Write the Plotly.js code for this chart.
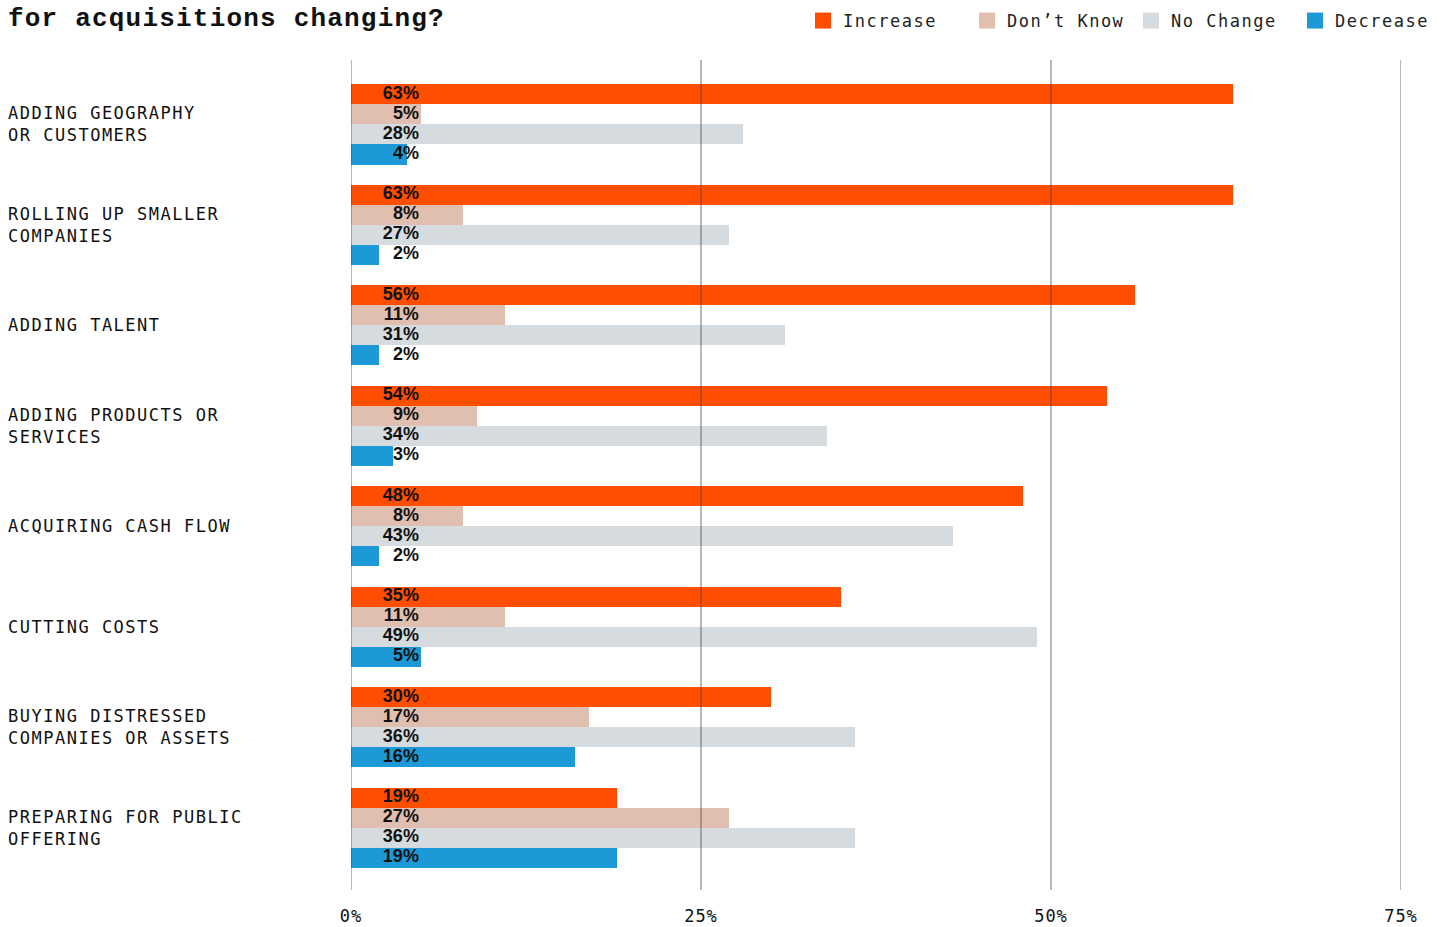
<!DOCTYPE html>
<html>
<head>
<meta charset="utf-8">
<script src="https://cdn.plot.ly/plotly-3.0.1.min.js"></script>
<style>
  html, body { margin: 0; padding: 0; background: #fff; }
  #chart { width: 1452px; height: 927px; }
  .annotation-text, .legendtext { letter-spacing: 1.5px; }
  .xtick text { letter-spacing: 1px; }
  .gtitle { letter-spacing: 1.2px; }
</style>
</head>
<body>
<div id="chart"></div>
<script>
// ---- data ----
const titleText = "for acquisitions changing?";
const categories = [
  "ADDING GEOGRAPHY<br>OR CUSTOMERS",
  "ROLLING UP SMALLER<br>COMPANIES",
  "ADDING TALENT",
  "ADDING PRODUCTS OR<br>SERVICES",
  "ACQUIRING CASH FLOW",
  "CUTTING COSTS",
  "BUYING DISTRESSED<br>COMPANIES OR ASSETS",
  "PREPARING FOR PUBLIC<br>OFFERING"
];
const seriesNames = ["Increase", "Don\u2019t Know", "No Change", "Decrease"];
const increase = [63, 63, 56, 54, 48, 35, 30, 19];
const dontKnow = [5, 8, 11, 9, 8, 11, 17, 27];
const noChange = [28, 27, 31, 34, 43, 49, 36, 36];
const decrease = [4, 2, 2, 3, 2, 5, 16, 19];
const tickValues = [0, 25, 50, 75];
const tickLabels = ["0%", "25%", "50%", "75%"];

// ---- style ----
const colors = ["#FF4E00", "#E0BFB0", "#D5DBDE", "#1E99D7"];
const MONO = "DejaVu Sans Mono, Liberation Mono, monospace";
const TITLE_MONO = "Liberation Mono, DejaVu Sans Mono, monospace";
const SANS = "Liberation Sans, Arial, sans-serif";
const BAR_W = 0.2;
const offsets = [-0.3, -0.1, 0.1, 0.3];
const LABEL_X = 4.85;

const allSeries = [increase, dontKnow, noChange, decrease];
const traces = [];

allSeries.forEach((vals, s) => {
  const ys = vals.map((_, i) => i + offsets[s]);
  traces.push({
    type: "bar", orientation: "h",
    x: vals, y: ys, width: BAR_W,
    marker: { color: colors[s], line: { width: 0 } },
    showlegend: false, hoverinfo: "skip"
  });
});
allSeries.forEach((vals, s) => {
  const ys = vals.map((_, i) => i + offsets[s]);
  traces.push({
    type: "scatter", mode: "text",
    x: vals.map(() => LABEL_X), y: ys,
    text: vals.map(v => "<b>" + v + "%</b>"),
    textposition: "middle left",
    textfont: { family: SANS, size: 18, color: "#111" },
    showlegend: false, hoverinfo: "skip", cliponaxis: false
  });
});
// legend entries
seriesNames.forEach((name, s) => {
  traces.push({
    type: "scatter", mode: "markers", name: name,
    x: [null], y: [null],
    marker: { symbol: "square", size: 16, color: colors[s] },
    showlegend: true
  });
});

const annotations = categories.map((c, i) => ({
  text: c, xref: "paper", yref: "y",
  x: -345 / 1050, y: i,
  xanchor: "left", yanchor: "middle", align: "left",
  showarrow: false,
  font: { family: MONO, size: 17, color: "#111" }
}));

const shapes = tickValues.map(v => ({
  type: "line", xref: "x", yref: "paper",
  x0: v, x1: v, y0: 0, y1: 1,
  line: { color: "rgba(60,60,60,0.45)", width: 1.6 },
  layer: "above"
}));

const layout = {
  width: 1452, height: 927,
  paper_bgcolor: "#fff", plot_bgcolor: "#fff",
  margin: { l: 351, r: 51, t: 60, b: 37 },
  title: {
    text: "<b>" + titleText + "</b>",
    xref: "container", yref: "container",
    x: 8 / 1452, xanchor: "left",
    y: 1 - 17 / 927, yanchor: "middle",
    font: { family: TITLE_MONO, size: 26, color: "#111" }
  },
  xaxis: {
    range: [0, 75], tickmode: "array", tickvals: tickValues, ticktext: tickLabels,
    showgrid: false, zeroline: false, showline: false,
    ticks: "outside", ticklen: 11, tickcolor: "rgba(0,0,0,0)",
    tickfont: { family: MONO, size: 17, color: "#111" },
    fixedrange: true
  },
  yaxis: {
    range: [7.62, -0.64], showticklabels: false,
    showgrid: false, zeroline: false, showline: false,
    fixedrange: true
  },
  showlegend: true,
  legend: {
    orientation: "h",
    xref: "container", yref: "container",
    x: 803 / 1452, xanchor: "left",
    y: 1 - 21 / 927, yanchor: "middle",
    entrywidth: 119, entrywidthmode: "pixels",
    font: { family: MONO, size: 17, color: "#222" },
    bgcolor: "rgba(0,0,0,0)"
  },
  annotations: annotations,
  shapes: shapes,
  bargap: 0
};

Plotly.newPlot("chart", traces, layout, { displayModeBar: false, staticPlot: true });
</script>
</body>
</html>
